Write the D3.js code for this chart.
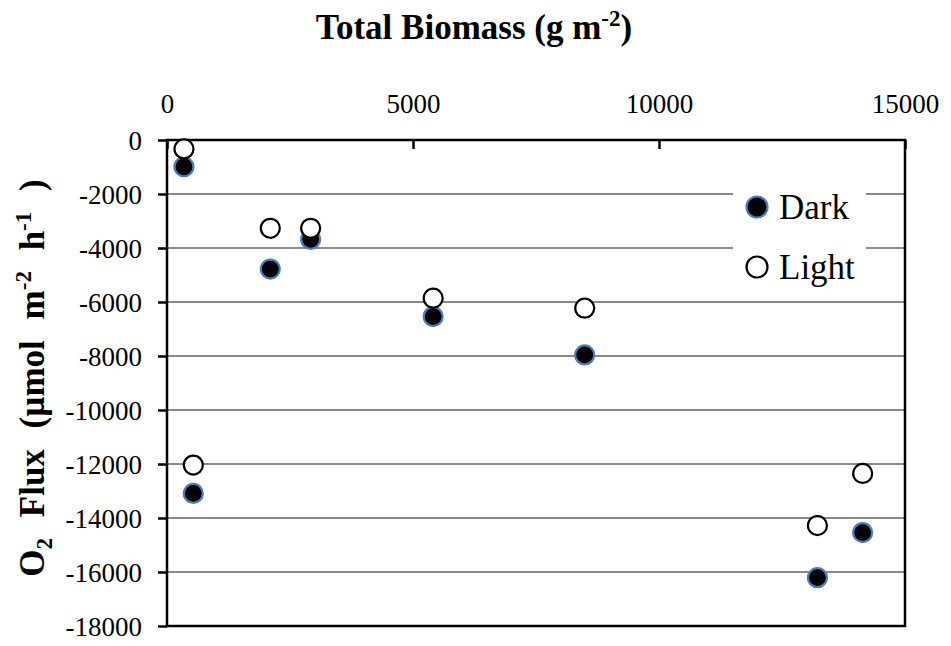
<!DOCTYPE html>
<html>
<head>
<meta charset="utf-8">
<script src="https://cdn.jsdelivr.net/npm/d3@7/dist/d3.min.js"></script>
<style>
  html, body { margin: 0; padding: 0; background: #fff; }
  svg { display: block; }
  svg text { font-family: "Liberation Serif", "Times New Roman", serif; fill: #000; }
</style>
</head>
<body>
<svg id="chart" width="951" height="646"></svg>
<script>
// Total biomass (g m-2) for each sample
const biomass = [345, 2100, 2920, 535, 5410, 8490, 14140, 13220];
// O2 flux (µmol m-2 h-1) in the dark and in the light
const darkFlux  = [-990, -4780, -3680, -13090, -6540, -7960, -14540, -16210];
const lightFlux = [-330, -3270, -3270, -12040, -5860, -6230, -12350, -14280];
const xTicks = [0, 5000, 10000, 15000];
const yTicks = [0, -2000, -4000, -6000, -8000, -10000, -12000, -14000, -16000, -18000];
const seriesNames = ["Dark", "Light"];

const serif = "Liberation Serif, Times New Roman, serif";
const svg = d3.select("#chart");
const plot = { left: 167, right: 905, top: 140, bottom: 626 };

const x = d3.scaleLinear().domain([0, 15000]).range([plot.left, plot.right]);
const y = d3.scaleLinear().domain([0, -18000]).range([plot.top, plot.bottom]);

// horizontal gridlines
svg.append("g")
  .selectAll("line")
  .data(yTicks.slice(1, -1))
  .join("line")
  .attr("x1", plot.left).attr("x2", plot.right)
  .attr("y1", d => y(d)).attr("y2", d => y(d))
  .attr("stroke", "#8a8a8a").attr("stroke-width", 2);

// legend background masks the gridlines behind it
svg.append("rect")
  .attr("x", 733).attr("y", 176).attr("width", 133).attr("height", 118)
  .attr("fill", "#fff");

// plot frame
svg.append("rect")
  .attr("x", plot.left).attr("y", plot.top)
  .attr("width", plot.right - plot.left).attr("height", plot.bottom - plot.top)
  .attr("fill", "none").attr("stroke", "#000").attr("stroke-width", 2.5);

// top x axis: ticks pointing into the plot
const xAxis = svg.append("g")
  .attr("transform", `translate(0,${plot.top})`)
  .call(d3.axisTop(x).tickValues(xTicks).tickSize(-9).tickPadding(0).tickFormat(d3.format("d")));
xAxis.attr("font-family", serif).attr("font-size", 27);
xAxis.select(".domain").remove();
xAxis.selectAll(".tick line").attr("stroke", "#000").attr("stroke-width", 2.5);
xAxis.selectAll(".tick text").attr("y", -27).attr("dy", 0);

// left y axis: ticks pointing outward
const yAxis = svg.append("g")
  .attr("transform", `translate(${plot.left},0)`)
  .call(d3.axisLeft(y).tickValues(yTicks).tickSize(9).tickPadding(16)
    .tickFormat(d => String(d)));
yAxis.attr("font-family", serif).attr("font-size", 27);
yAxis.select(".domain").remove();
yAxis.selectAll(".tick line").attr("stroke", "#000").attr("stroke-width", 2.5);
yAxis.selectAll(".tick text").attr("dy", "0.35em");

// data points: dark first, light drawn on top
const darkPts = biomass.map((b, i) => ({ b, v: darkFlux[i] }));
const lightPts = biomass.map((b, i) => ({ b, v: lightFlux[i] }));

svg.append("g").selectAll("circle")
  .data(darkPts).join("circle")
  .attr("cx", d => x(d.b)).attr("cy", d => y(d.v)).attr("r", 9.5)
  .attr("fill", "#000").attr("stroke", "#4a7ebb").attr("stroke-width", 2.2);

svg.append("g").selectAll("circle")
  .data(lightPts).join("circle")
  .attr("cx", d => x(d.b)).attr("cy", d => y(d.v)).attr("r", 9.5)
  .attr("fill", "#fff").attr("stroke", "#000").attr("stroke-width", 2.2);

// legend
const legend = svg.append("g");
const legendY = [207, 267];
legend.append("circle").attr("cx", 757).attr("cy", legendY[0]).attr("r", 10.5)
  .attr("fill", "#000").attr("stroke", "#4a7ebb").attr("stroke-width", 2.2);
legend.append("circle").attr("cx", 757).attr("cy", legendY[1]).attr("r", 10.5)
  .attr("fill", "#fff").attr("stroke", "#000").attr("stroke-width", 2.2);
legend.selectAll("text")
  .data(seriesNames).join("text")
  .attr("x", 779).attr("y", (d, i) => legendY[i] + 12)
  .style("font-size", "35px")
  .text(d => d);

// chart title
const title = svg.append("text")
  .attr("x", 474).attr("y", 39)
  .attr("text-anchor", "middle")
  .style("font-size", "35px").style("font-weight", "bold");
title.append("tspan").text("Total Biomass (g m");
title.append("tspan").attr("dy", -13).style("font-size", "23px").text("-2");
title.append("tspan").attr("dy", 13).text(")");

// y axis title
const yTitle = svg.append("text")
  .attr("transform", "translate(44,378) rotate(-90)")
  .attr("text-anchor", "middle")
  .style("font-size", "35px").style("font-weight", "bold")
  .style("word-spacing", "12px");
yTitle.append("tspan").text("O");
yTitle.append("tspan").attr("dy", 8).style("font-size", "23px").text("2");
yTitle.append("tspan").attr("dy", -8).text(" Flux (µmol m");
yTitle.append("tspan").attr("dy", -13).style("font-size", "23px").text("-2");
yTitle.append("tspan").attr("dy", 13).text(" h");
yTitle.append("tspan").attr("dy", -13).style("font-size", "23px").text("-1");
yTitle.append("tspan").attr("dy", 13).text(" )");
</script>
</body>
</html>
